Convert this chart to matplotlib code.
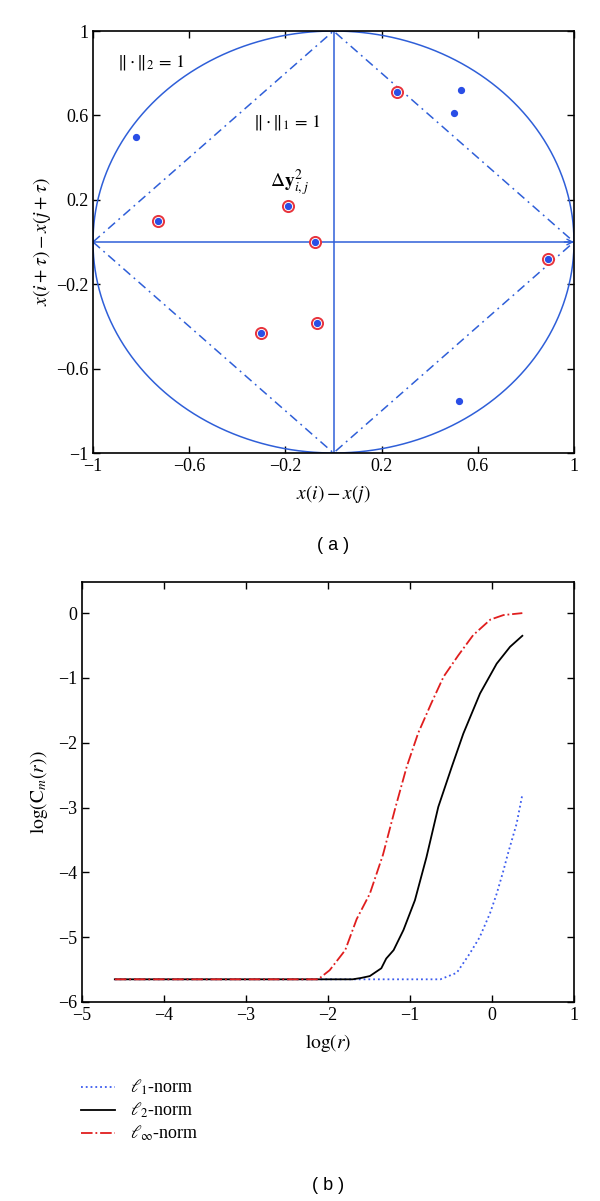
import matplotlib
matplotlib.use("Agg")
import matplotlib.pyplot as plt
import numpy as np

plt.rcParams['font.family'] = ['Liberation Serif', 'DejaVu Serif']
plt.rcParams['mathtext.fontset'] = 'stix'
plt.rcParams['axes.unicode_minus'] = True

# ---------------- data: panel (a) ----------------
ringed_x = [-0.73, -0.19, -0.075, 0.265, 0.89, -0.30, -0.07]
ringed_y = [0.10, 0.17, 0.0, 0.71, -0.08, -0.43, -0.385]
plain_x = [-0.82, 0.50, 0.53, 0.52]
plain_y = [0.50, 0.61, 0.72, -0.755]
a_ticks = [-1, -0.6, -0.2, 0.2, 0.6, 1]
a_ticklabels = ['\u22121', '\u22120.6', '\u22120.2', '0.2', '0.6', '1']

# ---------------- data: panel (b) ----------------
linf_x = [-4.6, -2.12, -1.98, -1.79, -1.65, -1.49, -1.33, -1.18, -1.04, -0.90,
          -0.74, -0.59, -0.41, -0.23, -0.02, 0.14, 0.37]
linf_y = [-5.65, -5.65, -5.51, -5.2, -4.72, -4.33, -3.73, -3.01, -2.37, -1.85,
          -1.39, -0.98, -0.65, -0.34, -0.10, -0.03, 0.0]
l2_x = [-4.6, -1.70, -1.60, -1.49, -1.35, -1.29, -1.20, -1.08, -0.94, -0.80,
        -0.655, -0.49, -0.35, -0.146, 0.057, 0.22, 0.37]
l2_y = [-5.65, -5.65, -5.63, -5.60, -5.48, -5.33, -5.2, -4.89, -4.43, -3.77,
        -2.99, -2.37, -1.86, -1.24, -0.78, -0.52, -0.35]
l1_x = [-4.6, -0.63, -0.43, -0.27, -0.15, -0.024, 0.057, 0.14, 0.19, 0.30, 0.37]
l1_y = [-5.65, -5.65, -5.55, -5.25, -5.0, -4.63, -4.33, -3.97, -3.73, -3.25, -2.8]
b_xticks = [-5, -4, -3, -2, -1, 0, 1]
b_yticks = [0, -1, -2, -3, -4, -5, -6]

BLUE = '#2f5fd8'
DOT = '#2a4ee6'
RED = '#e8333c'

fig = plt.figure(figsize=(6, 12.01), dpi=100)

# ---------------- panel (a) ----------------
ax = fig.add_axes([93/600, 1-453/1201, 481/600, 422/1201])
t = np.linspace(0, 2*np.pi, 400)
ax.plot(np.cos(t), np.sin(t), color=BLUE, lw=1.1)
ax.plot([-1, 0, 1, 0, -1], [0, 1, 0, -1, 0], color=BLUE, lw=1.1,
        ls=(0, (6, 3, 1.2, 3)))
ax.plot([-1, 1], [0, 0], color=BLUE, lw=1.1)
ax.plot([0, 0], [-1, 1], color=BLUE, lw=1.1)
ax.annotate('', xy=(1, 0), xytext=(0.96, 0),
            arrowprops=dict(arrowstyle='->', color=BLUE, lw=1.0,
                            shrinkA=0, shrinkB=0), annotation_clip=False)
ax.plot(ringed_x, ringed_y, ls='none', marker='o', ms=8, mfc='white',
        mec=RED, mew=1.4, zorder=4)
ax.plot(ringed_x, ringed_y, ls='none', marker='o', ms=4.2, mfc=DOT,
        mec=DOT, zorder=5)
ax.plot(plain_x, plain_y, ls='none', marker='o', ms=4.2, mfc=DOT,
        mec=DOT, zorder=5)
ax.text(-0.9, 0.85, r'$\Vert\cdot\Vert_2\,=\,1$', fontsize=13, va='center')
ax.text(-0.333, 0.564, r'$\Vert\cdot\Vert_1\,=\,1$', fontsize=13, va='center')
ax.text(-0.265, 0.28, r'$\Delta\mathbf{y}_{i,j}^{2}$', fontsize=14, va='center')
ax.set_xlim(-1, 1)
ax.set_ylim(-1, 1)
ax.set_xticks(a_ticks)
ax.set_xticklabels(a_ticklabels)
ax.set_yticks(a_ticks)
ax.set_yticklabels(a_ticklabels)
ax.tick_params(direction='in', top=True, right=True, labelsize=13,
               length=5, width=1)
ax.set_xlabel(r'$x(i) - x(j)$', fontsize=14, labelpad=6)
ax.set_ylabel(r'$x(i+\tau) - x(j+\tau)$', fontsize=14, labelpad=2)
for s in ax.spines.values():
    s.set_linewidth(1.2)
fig.text(333/600, 1-545/1201, '( a )', ha='center', va='center',
         fontsize=13, family='Liberation Sans')

# ---------------- panel (b) ----------------
bx = fig.add_axes([82/600, 1-1002/1201, 492/600, 420/1201])
h1, = bx.plot(l1_x, l1_y, color='#3b5bef', ls=':', lw=1.3, label=r'$\ell_1$-norm')
h2, = bx.plot(l2_x, l2_y, color='black', ls='-', lw=1.3, label=r'$\ell_2$-norm')
h3, = bx.plot(linf_x, linf_y, color='#e01e1e', ls='-.', lw=1.3,
              label=r'$\ell_\infty$-norm')
bx.set_xlim(-5, 1)
bx.set_ylim(-6, 0.48)
bx.set_xticks(b_xticks)
bx.set_yticks(b_yticks)
bx.tick_params(direction='in', top=True, right=True, labelsize=13,
               length=5, width=1)
bx.set_xlabel(r'$\mathrm{log}(r)$', fontsize=14, labelpad=6)
bx.set_ylabel(r'$\mathrm{log}(\mathrm{C}_m(r))$', fontsize=14, labelpad=6)
for s in bx.spines.values():
    s.set_linewidth(1.2)

fig.legend(handles=[h1, h2, h3], loc='upper left',
           bbox_to_anchor=(81/600, 1-1078/1201), frameon=False,
           fontsize=13, handlelength=1.9, handletextpad=0.8,
           labelspacing=0.2, borderpad=0, borderaxespad=0)

fig.text(328/600, 1-1186/1201, '( b )', ha='center', va='center',
         fontsize=13, family='Liberation Sans')

fig.savefig('out.png', dpi=100)
